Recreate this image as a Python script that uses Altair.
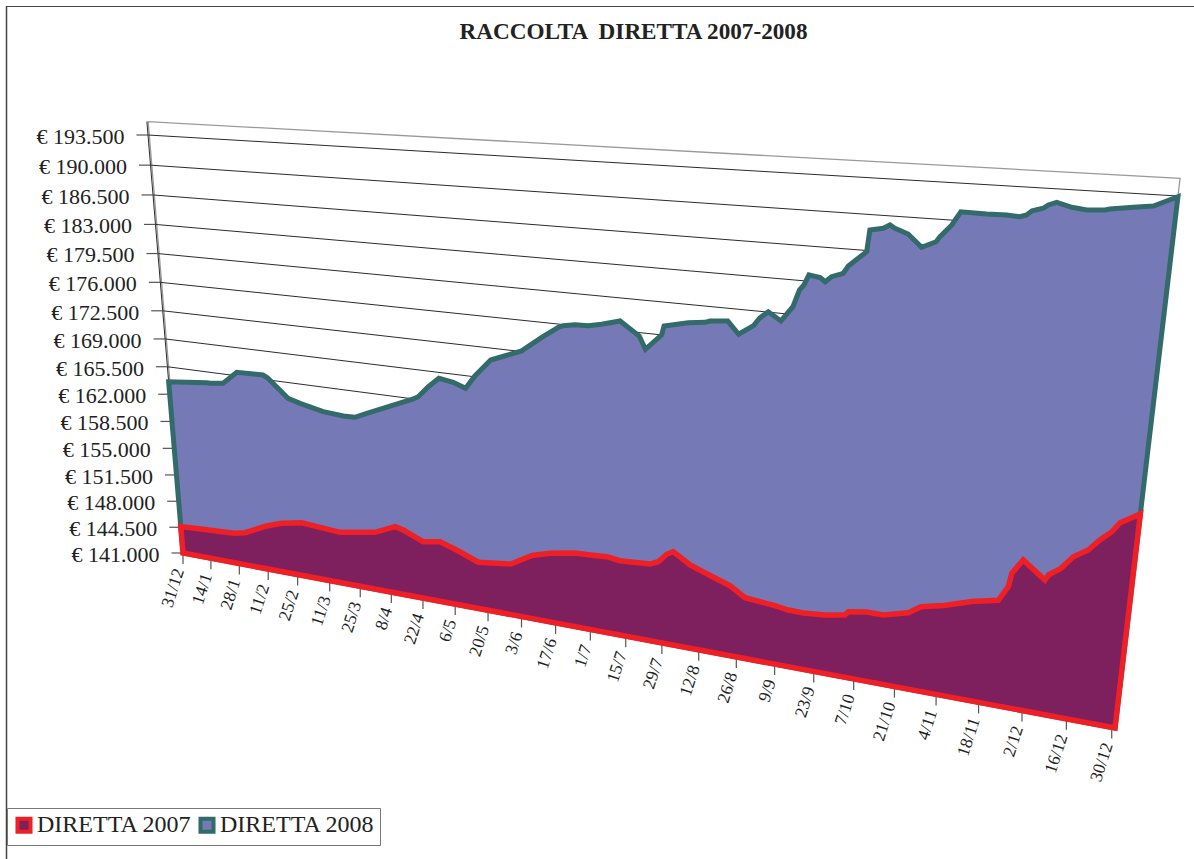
import altair as alt
import pandas as pd

# Day offsets from 31/12/2007 and amounts in euro for each deposit series
days_2008 = [0,18.6,20.2,26.5,33.3,45.5,47.7,56.4,61.8,72.1,81.0,86.1,91.4,111.7,113.8,118.2,
             122.7,128.6,133.6,137.5,144.0,146.4,156.3,164.2,170.6,172.5,176.9,181.9,186.9,193.7,200.8,203.1,
             208.9,209.7,218.3,224.2,225.9,232.1,236.0,241.1,242.9,245.8,250.2,254.0,255.9,257.3,258.8,262.5,
             264.2,266.2,269.9,271.4,277.0,277.6,281.8,283.8,285.4,289.6,294.0,298.3,299.4,302.7,305.1,312.8,
             318.7,322.6,324.5,326.0,329.1,330.5,332.8,337.2,341.5,346.6,347.9,354.3,359.7,366]
values_2008 = [163590,164130,164110,164340,165940,166030,165700,163550,163130,162490,162300,162340,163020,165490,165840,167170,
               168310,168060,167540,169100,171140,171420,172570,174340,175640,175880,176120,176160,176470,177030,175630,174270,
               175990,176970,177580,177800,177990,178170,176910,178000,178780,179540,178720,180290,182040,182580,183630,183470,
               183090,183650,184080,184840,186390,188510,188770,189130,188850,188390,187220,187850,188360,189540,190840,190790,
               190820,190750,190940,191370,191660,191990,192280,191910,191750,191860,191980,192260,192490,193440]
days_2007 = [0,11.3,20.4,26.9,31.9,42.6,49.9,59.4,67.8,76.9,92.8,101.8,105.4,114.0,121.2,128.2,
             137.3,145.0,150.9,159.6,166.9,176.9,182.1,189.3,194.5,199.6,206.0,209.1,212.2,214.6,221.0,229.7,
             235.8,241.4,246.8,252.2,257.0,262.3,269.9,276.7,277.8,284.0,289.7,297.9,301.9,309.3,313.7,318.0,
             326.4,329.1,329.8,332.9,340.1,341.0,344.6,347.9,352.1,355.2,358.4,360.5,366]
values_2007 = [144600,144770,144900,145000,145320,146730,147430,147960,147770,147570,148350,149490,149250,148200,148560,147880,
               146820,147090,147310,148800,149430,149980,150040,150170,149960,150030,150160,150590,151620,152050,150820,149850,
               149200,148110,147950,147780,147550,147510,147710,148100,148530,148850,148830,149540,150440,150990,151460,151910,
               152500,154120,155590,157160,155420,156000,156890,158270,159180,160370,161370,162390,163540]

value_ticks = [141000,144500,148000,151500,155000,158500,162000,165500,169000,172500,176000,179500,183000,186500,190000,193500]
value_labels = ["€ 141.000","€ 144.500","€ 148.000","€ 151.500","€ 155.000","€ 158.500","€ 162.000","€ 165.500",
                "€ 169.000","€ 172.500","€ 176.000","€ 179.500","€ 183.000","€ 186.500","€ 190.000","€ 193.500"]
date_labels = ["31/12","14/1","28/1","11/2","25/2","11/3","25/3","8/4","22/4","6/5","20/5","3/6","17/6","1/7",
               "15/7","29/7","12/8","26/8","9/9","23/9","7/10","21/10","4/11","18/11","2/12","16/12","30/12"]
date_days = [0,14,28,42,56,71,85,99,113,127,141,155,169,183,197,211,225,239,253,267,281,295,309,323,337,351,365]

FLOOR, CEIL, WALL_TOP, LAST_DAY = 141000, 193500, 195050, 366
SERIES = ["DIRETTA 2007", "DIRETTA 2008"]
FILLS = ["#7e1f5e", "#757ab6"]
STROKES = ["#ee2026", "#336a6a"]
SERIF = "Liberation Serif"

# Perspective of the tilted chart plane, given by the four corners of the
# day/value rectangle on the page.
(x0, y0), (x1, y1), (x2, y2), (x3, y3) = (183, 553), (1115, 728), (1178, 196), (148, 135)
_dx1, _dx2, _sx = x1 - x2, x3 - x2, x0 - x1 + x2 - x3
_dy1, _dy2, _sy = y1 - y2, y3 - y2, y0 - y1 + y2 - y3
_den = _dx1 * _dy2 - _dx2 * _dy1
G = (_sx * _dy2 - _dx2 * _sy) / _den
H = (_dx1 * _sy - _sx * _dy1) / _den
A, B = x1 - x0 + G * x1, x3 - x0 + H * x3
D, E = y1 - y0 + G * y1, y3 - y0 + H * y3


def project(day, value):
    s = day / LAST_DAY
    t = (value - FLOOR) / (CEIL - FLOOR)
    w = 1 + G * s + H * t
    return (A * s + B * t + x0) / w, (D * s + E * t + y0) / w


def frame(points, **cols):
    xy = [project(d, v) for d, v in points]
    return pd.DataFrame({"px": [p[0] for p in xy], "py": [p[1] for p in xy],
                         "seq": range(len(xy)), **cols})


XS = alt.Scale(domain=[0, 1194], nice=False, zero=False)
YS = alt.Scale(domain=[859, 0], nice=False, zero=False)
X = alt.X("px:Q", axis=None, scale=XS)
Y = alt.Y("py:Q", axis=None, scale=YS)
ORDER = alt.Order("seq:Q")

# Back wall outline and the value grid
wall = alt.Chart(frame([(0.6, FLOOR), (0.6, WALL_TOP), (LAST_DAY, WALL_TOP), (LAST_DAY, CEIL)])).mark_line(
    color="#9a9a9a", strokeWidth=1.3).encode(x=X, y=Y, order=ORDER)

grid_rows = []
for v in value_ticks:
    grid_rows.append(frame([(0, v), (LAST_DAY, v)], tick=v))
grid = alt.Chart(pd.concat(grid_rows)).mark_line(color="#2b2b2b", strokeWidth=1).encode(
    x=X, y=Y, detail="tick:Q", order=ORDER)

axis_line = alt.Chart(frame([(0, FLOOR), (0, WALL_TOP)])).mark_line(color="#2b2b2b", strokeWidth=1).encode(
    x=X, y=Y, order=ORDER)

# Value axis: short ticks to the left of the slanted axis, then the labels
vt = frame([(0, v) for v in value_ticks], label=value_labels)
vt["tx"] = vt["px"] - 11.5
vt["lx"] = vt["px"] - 23.5
vt["ly"] = vt["py"] + 1.8
value_tick_marks = alt.Chart(vt).mark_rule(color="#555555", strokeWidth=1.2).encode(
    x=X, x2="tx:Q", y=Y)
value_text = alt.Chart(vt).mark_text(font=SERIF, fontSize=22, align="right", baseline="middle", color="#222222").encode(
    x=alt.X("lx:Q", axis=None, scale=XS), y=alt.Y("ly:Q", axis=None, scale=YS), text="label:N")

# Date axis along the tilted floor
dt = frame([(d, FLOOR) for d in date_days], label=date_labels)
dt["ty"] = dt["py"] + 11
dt["lx"] = dt["px"] - 3.5
dt["ly"] = dt["ty"] + 5
date_tick_marks = alt.Chart(dt).mark_rule(color="#555555", strokeWidth=1.2).encode(
    x=X, y=Y, y2="ty:Q")
date_text = alt.Chart(dt).mark_text(font=SERIF, fontSize=17.5, align="right", baseline="middle", angle=288,
                                    color="#222222").encode(
    x=alt.X("lx:Q", axis=None, scale=XS), y=alt.Y("ly:Q", axis=None, scale=YS), text="label:N")


def polygon(days, values, name, width):
    pts = [(0, FLOOR)] + list(zip(days, values)) + [(LAST_DAY, FLOOR)]
    legend = alt.Legend(title=None, orient="none", legendX=7, legendY=808, direction="horizontal",
                        symbolType="square", symbolSize=170, symbolStrokeWidth=4, symbolOpacity=1,
                        labelFont=SERIF, labelFontSize=24, labelColor="#222222", labelOffset=1,
                        columnPadding=0, padding=5, fillColor="white", strokeColor="#777777")
    return alt.Chart(frame(pts, series=name)).mark_line(
        interpolate="linear-closed", strokeWidth=width).encode(
        x=X, y=Y, order=ORDER,
        fill=alt.Fill("series:N", scale=alt.Scale(domain=SERIES, range=FILLS), legend=legend),
        stroke=alt.Stroke("series:N", scale=alt.Scale(domain=SERIES, range=STROKES), legend=legend))


area_2008 = polygon(days_2008, values_2008, "DIRETTA 2008", 5)
area_2007 = polygon(days_2007, values_2007, "DIRETTA 2007", 5.5)

title = alt.Chart(pd.DataFrame({"t": ["RACCOLTA \u00a0DIRETTA 2007-2008"]})).mark_text(
    font=SERIF, fontSize=23.2, fontWeight="bold", color="#222222", align="center", baseline="middle").encode(
    x=alt.value(633.5), y=alt.value(32), text="t:N")

border_left = alt.Chart(pd.DataFrame({"k": [0]})).mark_rule(color="#444444", strokeWidth=1.5).encode(
    x=alt.value(6.5), y=alt.value(6), y2=alt.value(859))
border_top = alt.Chart(pd.DataFrame({"k": [0]})).mark_rule(color="#444444", strokeWidth=1.2).encode(
    x=alt.value(6), x2=alt.value(1194), y=alt.value(6.5))

chart = alt.layer(
    border_left, border_top, wall, grid, axis_line, value_tick_marks, date_tick_marks,
    area_2008, area_2007, value_text, date_text, title
).properties(width=1194, height=859, padding=0, autosize=alt.AutoSizeParams(type="none")).configure_view(stroke=None)

chart.save("out.html", embed_options={"renderer": "svg", "actions": False})
